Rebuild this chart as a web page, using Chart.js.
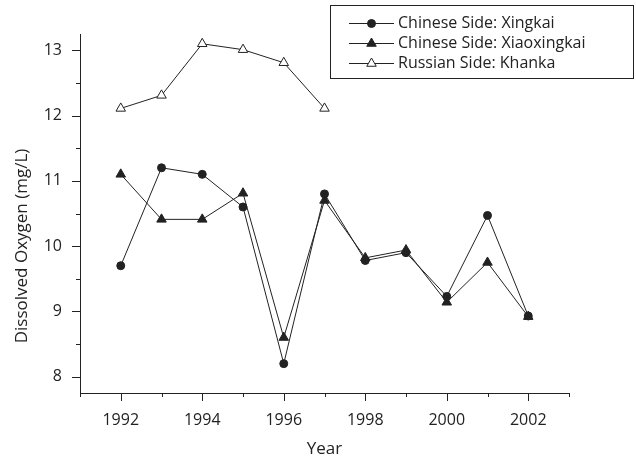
<!DOCTYPE html>
<html><head><meta charset="utf-8">
<script src="https://cdn.jsdelivr.net/npm/chart.js@4/dist/chart.umd.min.js"></script>
<style>html,body{margin:0;padding:0;background:#fff}#wrap{width:636px;height:457px;position:relative}</style>
</head><body><div id="wrap"><canvas id="c" width="636" height="457"></canvas></div>
<script>
const years = [1992, 1993, 1994, 1995, 1996, 1997, 1998, 1999, 2000, 2001, 2002];
const xingkai = [9.70, 11.20, 11.10, 10.60, 8.20, 10.80, 9.78, 9.90, 9.23, 10.47, 8.93];
const xiaoxingkai = [11.10, 10.41, 10.41, 10.81, 8.60, 10.70, 9.82, 9.94, 9.14, 9.75, 8.92];
const khankaYears = [1992, 1993, 1994, 1995, 1996, 1997];
const khanka = [12.11, 12.31, 13.10, 13.01, 12.81, 12.11];
const seriesLabels = ['Chinese Side: Xingkai', 'Chinese Side: Xiaoxingkai', 'Russian Side: Khanka'];
const xTickYears = [1991, 1992, 1993, 1994, 1995, 1996, 1997, 1998, 1999, 2000, 2001, 2002, 2003];
const yTickValues = [8, 8.5, 9, 9.5, 10, 10.5, 11, 11.5, 12, 12.5, 13];
const xTitle = 'Year';
const yTitle = 'Dissolved Oxygen (mg/L)';

const INK = '#222';
const FONT = "'Open Sans', 'DejaVu Sans', sans-serif";

const toPts = (xs, ys) => xs.map((x, i) => ({x: x, y: ys[i]}));

const extras = {
  id: 'extras',
  afterDraw(chart) {
    const ctx = chart.ctx;
    const xs = chart.scales.x, ys = chart.scales.y;
    ctx.save();
    ctx.strokeStyle = INK;
    ctx.lineWidth = 1;
    ctx.beginPath();
    xTickYears.forEach(v => {
      const px = Math.round(xs.getPixelForValue(v)) + 0.5;
      const len = (v % 2 === 0) ? 8 : 4;
      ctx.moveTo(px, ys.bottom);
      ctx.lineTo(px, ys.bottom + len);
    });
    yTickValues.forEach(v => {
      const py = Math.round(ys.getPixelForValue(v)) + 0.5;
      const len = Number.isInteger(v) ? 8 : 4;
      ctx.moveTo(xs.left, py);
      ctx.lineTo(xs.left - len, py);
    });
    ctx.stroke();
    ctx.fillStyle = INK;
    ctx.font = '17px ' + FONT;
    ctx.textAlign = 'center';
    ctx.textBaseline = 'middle';
    ctx.fillText(xTitle, (xs.left + xs.right) / 2, 449);
    ctx.save();
    ctx.translate(22, 246);
    ctx.rotate(-Math.PI / 2);
    ctx.fillText(yTitle, 0, 0);
    ctx.restore();
    ctx.strokeRect(330.5, 5.5, 303, 73);
    const rows = [23, 43, 63];
    chart.data.datasets.forEach((ds, i) => {
      const y = rows[i] + 0.5;
      ctx.strokeStyle = INK;
      ctx.lineWidth = 1;
      ctx.beginPath();
      ctx.moveTo(349, y);
      ctx.lineTo(394, y);
      ctx.stroke();
      drawMarker(ctx, ds.pointStyle, 371.5, y, ds.pointRadius, ds.pointBackgroundColor);
      ctx.fillStyle = INK;
      ctx.font = '16px ' + FONT;
      ctx.textAlign = 'left';
      ctx.textBaseline = 'middle';
      ctx.fillText(ds.label, 398, y);
    });
    ctx.restore();
  }
};

function drawMarker(ctx, style, x, y, r, fill) {
  ctx.beginPath();
  if (style === 'circle') {
    ctx.arc(x, y, r, 0, Math.PI * 2);
  } else {
    const a = Math.PI / 6;
    ctx.moveTo(x, y - r);
    ctx.lineTo(x + r * Math.cos(a), y + r * Math.sin(a));
    ctx.lineTo(x - r * Math.cos(a), y + r * Math.sin(a));
    ctx.closePath();
  }
  ctx.fillStyle = fill;
  ctx.fill();
  ctx.strokeStyle = INK;
  ctx.lineWidth = 1;
  ctx.stroke();
}

new Chart(document.getElementById('c'), {
  type: 'line',
  data: {
    datasets: [
      {label: seriesLabels[0], data: toPts(years, xingkai), pointStyle: 'circle', pointRadius: 4,
       pointBackgroundColor: INK, pointBorderColor: INK, borderColor: INK, borderWidth: 1, tension: 0},
      {label: seriesLabels[1], data: toPts(years, xiaoxingkai), pointStyle: 'triangle', pointRadius: 5.5,
       pointBackgroundColor: INK, pointBorderColor: INK, borderColor: INK, borderWidth: 1, tension: 0},
      {label: seriesLabels[2], data: toPts(khankaYears, khanka), pointStyle: 'triangle', pointRadius: 5.5,
       pointBackgroundColor: '#fff', pointBorderColor: INK, borderColor: INK, borderWidth: 1, tension: 0}
    ]
  },
  options: {
    responsive: false,
    animation: false,
    devicePixelRatio: 1,
    layout: {padding: {left: 0, top: 34, right: 67, bottom: 0}},
    plugins: {legend: {display: false}, tooltip: {enabled: false}},
    elements: {point: {borderWidth: 1}},
    scales: {
      x: {
        type: 'linear', min: 1991, max: 2003,
        afterBuildTicks: s => { s.ticks = xTickYears.map(v => ({value: v})); },
        afterFit: s => { s.height = 64; },
        ticks: {autoSkip: false, maxRotation: 0, color: INK, padding: 10,
          font: {family: FONT, size: 16},
          callback: v => (v % 2 === 0 ? String(v) : '')},
        grid: {display: true, drawOnChartArea: false, drawTicks: true, tickLength: 8, tickColor: 'rgba(0,0,0,0)'},
        border: {display: true, color: INK, width: 1}
      },
      y: {
        type: 'linear', min: 7.75, max: 13.25,
        afterBuildTicks: s => { s.ticks = yTickValues.map(v => ({value: v})); },
        afterFit: s => { s.width = 80; },
        ticks: {autoSkip: false, color: INK, padding: 10,
          font: {family: FONT, size: 16},
          callback: v => (Number.isInteger(v) ? String(v) : '')},
        grid: {display: true, drawOnChartArea: false, drawTicks: true, tickLength: 8, tickColor: 'rgba(0,0,0,0)'},
        border: {display: true, color: INK, width: 1}
      }
    }
  },
  plugins: [extras]
});
</script>
</body></html>
